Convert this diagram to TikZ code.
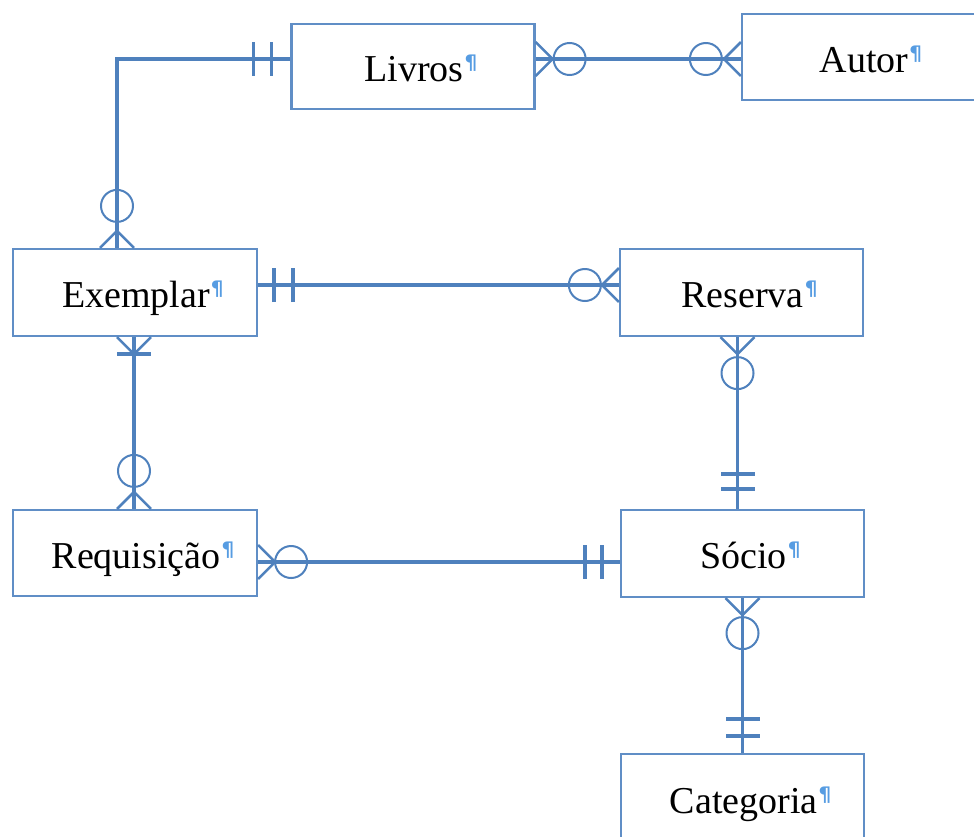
\documentclass[tikz,border=0pt]{standalone}
\usepackage{fontspec}
\setmainfont{Liberation Serif}
\newfontfamily\pilfont{DejaVu Sans}
\definecolor{erblue}{RGB}{79,129,189}
\definecolor{boxblue}{RGB}{96,142,198}
\definecolor{pilblue}{RGB}{86,156,226}
% paragraph mark after each entity name
\newcommand\parmark{\hspace{1pt}{\pilfont\bfseries\fontsize{20}{20}\selectfont\color{pilblue}\raisebox{12pt}{¶}}}
% many + optional: crow's foot at the box side, ring further out
\newcommand\crowring[3]{%
  \begin{scope}[shift={(#1)},rotate=#2]
    \draw[foot] (0,17) -- (17,0) -- (0,-17);
    \draw[ring] (#3,0) circle (16pt);
  \end{scope}}
% many + mandatory: crow's foot closed by one bar
\newcommand\crowbar[2]{%
  \begin{scope}[shift={(#1)},rotate=#2]
    \draw[foot] (0,17) -- (17,0) -- (0,-17);
    \draw[conn] (17,-17) -- (17,17);
  \end{scope}}
% exactly one: two bars
\newcommand\twobars[4]{%
  \begin{scope}[shift={(#1)},rotate=#2]
    \draw[conn] (#3,-17) -- (#3,17);
    \draw[conn] (#4,-17) -- (#4,17);
  \end{scope}}
\begin{document}
\begin{tikzpicture}[x=1pt,y=1pt,
  entity/.style={draw=boxblue,line width=2.2pt,fill=white,
    font=\fontsize{38}{40}\selectfont,text height=36pt,text depth=6pt,
    minimum width=243pt,inner sep=0pt},
  conn/.style={draw=erblue,line width=3.6pt},
  foot/.style={draw=erblue,line width=2.6pt},
  ring/.style={draw=erblue,line width=2pt}]
\useasboundingbox (0,0) rectangle (974,-836);

% entities
\node[entity,minimum height=85pt] (livros) at (413,-66.5) {\hspace*{16pt}Livros\parmark};
\node[entity,minimum width=258pt,minimum height=86pt] (autor) at (871,-57) {Autor\parmark};
\node[entity,minimum width=244pt,minimum height=87pt] (exemplar) at (135,-292.5) {\hspace*{16pt}Exemplar\parmark};
\node[entity,minimum height=87pt] (reserva) at (741.5,-292.5) {\hspace*{16pt}Reserva\parmark};
\node[entity,minimum width=244pt,minimum height=86pt] (requisicao) at (135,-553) {\hspace*{16pt}Requisição\parmark};
\node[entity,minimum height=87pt] (socio) at (742.5,-553.5) {\hspace*{16pt}Sócio\parmark};
\node[entity,minimum height=88pt] (categoria) at (742.5,-798) {\hspace*{16pt}Categoria\parmark};

% connector end points
\coordinate (livW) at ([yshift=7.5pt]livros.west);
\coordinate (livE) at ([yshift=7.5pt]livros.east);
\coordinate (exN) at ([xshift=-18pt]exemplar.north);
\coordinate (exE) at ([yshift=7.5pt]exemplar.east);
\coordinate (exS) at ([xshift=-1pt]exemplar.south);
\coordinate (reqE) at ([yshift=-9pt]requisicao.east);
\coordinate (resS) at ([xshift=-4pt]reserva.south);
\coordinate (socS) at (socio.south);

% relationship lines
\draw[conn] (livW) -| (exN);
\draw[conn] (livE) -- (livE -| autor.west) coordinate (autW);
\draw[conn] (exE) -- (exE -| reserva.west) coordinate (resW);
\draw[conn] (exS) -- (exS |- requisicao.north) coordinate (reqN);
\draw[conn] (reqE) -- (reqE -| socio.west) coordinate (socW);
\draw[conn] (resS) -- (resS |- socio.north) coordinate (socN);
\draw[conn] (socS) -- (socS |- categoria.north) coordinate (catN);

% cardinality marks
\twobars{livW}{180}{19}{37}
\crowring{exN}{90}{42}
\crowring{livE}{0}{34}
\crowring{autW}{180}{35}
\twobars{exE}{0}{16}{35}
\crowring{resW}{180}{34}
\crowbar{exS}{-90}
\crowring{reqN}{90}{38}
\crowring{reqE}{0}{33}
\twobars{socW}{180}{18}{35}
\crowring{resS}{-90}{36}
\twobars{socN}{90}{20}{35}
\crowring{socS}{-90}{35}
\twobars{catN}{90}{17}{34}
\end{tikzpicture}
\end{document}
